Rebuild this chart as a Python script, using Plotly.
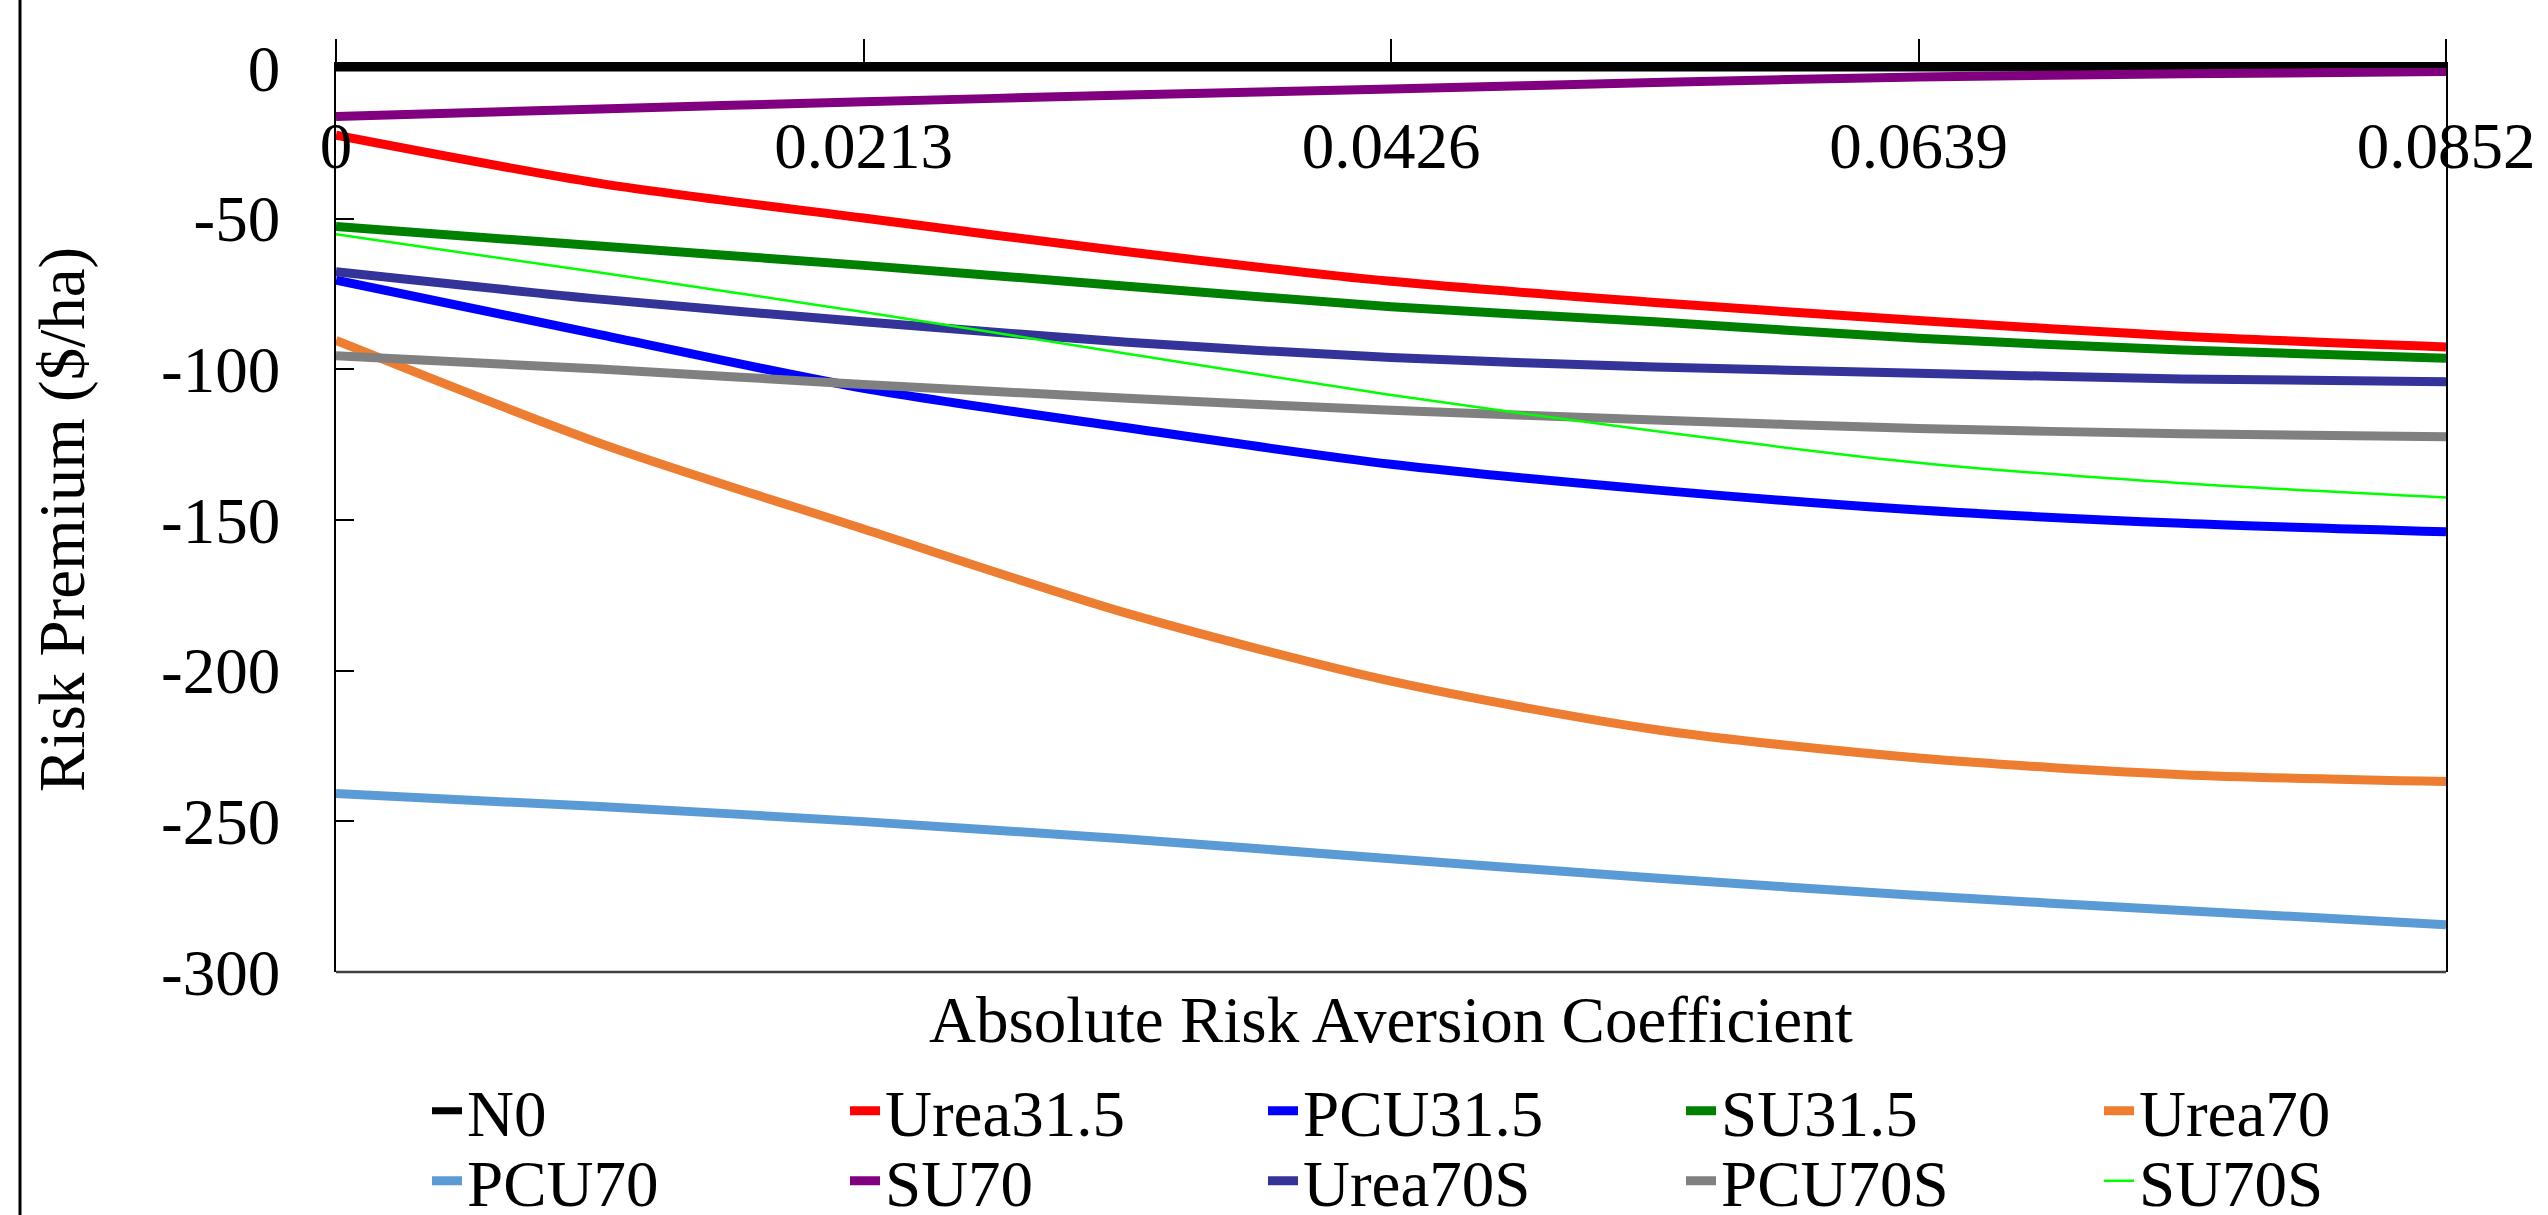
import plotly.graph_objects as go

x_vals = [0, 0.01065, 0.0213, 0.03195, 0.0426, 0.05325, 0.0639, 0.07455, 0.0852]
x_ticks = [0, 0.0213, 0.0426, 0.0639, 0.0852]
x_tick_text = ["0", "0.0213", "0.0426", "0.0639", "0.0852"]
y_ticks = [0, -50, -100, -150, -200, -250, -300]
y_tick_text = ["0", "-50", "-100", "-150", "-200", "-250", "-300"]

series_names = ["N0", "Urea31.5", "PCU31.5", "SU31.5", "Urea70",
                "PCU70", "SU70", "Urea70S", "PCU70S", "SU70S"]

n0 = [0, 0, 0, 0, 0, 0, 0, 0, 0]
urea31_5 = [-22.3, -38.3, -49.8, -61.0, -70.8, -77.8, -83.8, -89.0, -92.6]
pcu31_5 = [-70.4, -88.5, -106.3, -119.4, -131.5, -140.0, -146.7, -151.1, -153.9]
su31_5 = [-52.6, -59.1, -65.5, -72.4, -79.2, -84.2, -89.7, -93.6, -96.3]
urea70 = [-90.4, -124.5, -153.0, -181.0, -203.5, -219.5, -229.0, -234.5, -236.8]
pcu70 = [-240.8, -245.1, -250.1, -255.9, -262.4, -268.8, -274.6, -279.6, -284.3]
su70 = [-16.1, -13.6, -11.2, -9.0, -7.0, -4.8, -3.0, -1.9, -1.2]
urea70s = [-67.6, -76.7, -84.2, -91.0, -96.1, -99.2, -101.3, -103.2, -104.1]
pcu70s = [-95.5, -99.9, -105.0, -109.6, -113.6, -116.8, -119.6, -121.4, -122.4]
su70s = [-55.2, -67.9, -81.0, -94.8, -108.5, -120.5, -131.0, -137.8, -142.5]

series_values = [n0, urea31_5, pcu31_5, su31_5, urea70, pcu70, su70, urea70s, pcu70s, su70s]
colors = ["#000000", "#FF0000", "#0000FF", "#008000", "#ED7D31",
          "#5B9BD5", "#800080", "#333399", "#808080", "#00FF00"]
widths = [7, 9, 9, 9, 9, 9, 9, 9, 9, 2.5]

FONT = "Liberation Serif"
FS = 65

fig = go.Figure()
for i, (name, vals, c, w) in enumerate(zip(series_names, series_values, colors, widths)):
    fig.add_trace(go.Scatter(
        x=x_vals, y=vals, name=name, mode="lines",
        line=dict(color=c, width=w, shape="spline", smoothing=0.8),
        legend="legend" if i < 5 else "legend2",
    ))

legend_common = dict(
    orientation="h",
    xref="container", yref="container",
    xanchor="left", yanchor="top",
    entrywidth=373, entrywidthmode="pixels",
    font=dict(family=FONT, size=FS, color="black"),
    bgcolor="rgba(0,0,0,0)", borderwidth=0,
    tracegroupgap=0,
)

fig.update_layout(
    width=2548, height=1215,
    margin=dict(l=336, r=102, t=68, b=243),
    paper_bgcolor="white", plot_bgcolor="white",
    font=dict(family=FONT, size=FS, color="black"),
    showlegend=True,
    legend=dict(legend_common, x=427 / 2548, y=1 - 1062 / 1215),
    legend2=dict(legend_common, x=427 / 2548, y=1 - 1132 / 1215),
    xaxis=dict(
        range=[0, 0.0852], side="top",
        tickmode="array", tickvals=x_ticks, ticktext=x_tick_text,
        ticks="outside", ticklen=23, tickwidth=1.5, tickcolor="black",
        ticklabelposition="inside", ticklabeloverflow="allow",
        ticklabelstandoff=64,
        showline=True, linewidth=6, linecolor="black", mirror=False,
        showgrid=False, zeroline=False,
        tickfont=dict(family=FONT, size=FS, color="black"),
    ),
    yaxis=dict(
        range=[-300, 0],
        tickmode="array", tickvals=y_ticks, ticktext=y_tick_text,
        ticks="inside", ticklen=18, tickwidth=1.5, tickcolor="black",
        ticklabelstandoff=41,
        showline=True, linewidth=1.5, linecolor="black", mirror=True,
        showgrid=False, zeroline=False,
        tickfont=dict(family=FONT, size=FS, color="black"),
    ),
    annotations=[
        dict(text="Absolute Risk Aversion Coefficient", xref="paper", yref="paper",
             x=0.5, y=(972 - 1020) / 904, xanchor="center", yanchor="middle",
             showarrow=False, font=dict(family=FONT, size=FS, color="black")),
        dict(text="Risk Premium ($/ha)", xref="paper", yref="paper",
             x=(62 - 336) / 2110, y=0.5, xanchor="center", yanchor="middle",
             textangle=-90, showarrow=False,
             font=dict(family=FONT, size=FS, color="black")),
    ],
    shapes=[
        dict(type="line", xref="paper", yref="paper",
             x0=0, x1=1, y0=0, y1=0,
             line=dict(color="#404040", width=2.5)),
        dict(type="line", xref="paper", yref="paper",
             x0=(20 - 336) / 2110, x1=(20 - 336) / 2110,
             y0=-0.27, y1=1.08,
             line=dict(color="black", width=3)),
    ],
)

fig.write_html("out.html")
